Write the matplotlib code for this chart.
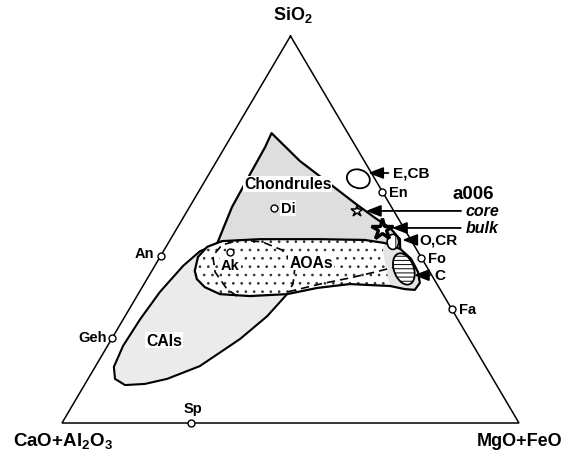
import matplotlib
matplotlib.use('Agg')
import numpy as np
import matplotlib.pyplot as plt
from matplotlib.patches import Polygon, Ellipse

plt.rcParams['font.family'] = ['Liberation Sans', 'DejaVu Sans']
plt.rcParams['font.weight'] = 'bold'
plt.rcParams['mathtext.fontset'] = 'custom'
plt.rcParams['mathtext.rm'] = 'Liberation Sans:bold'
plt.rcParams['mathtext.bf'] = 'Liberation Sans:bold'
plt.rcParams['hatch.linewidth'] = 0.7

# reference minerals, wt% (SiO2, MgO+FeO); rest is CaO+Al2O3
mineral_names = ['En', 'Di', 'An', 'Geh', 'Ak', 'Sp', 'Fo', 'Fa']
mineral_sio2 = [59.8, 55.5, 43.2, 21.9, 44.1, 0.0, 42.7, 29.5]
mineral_mgo = [40.2, 18.6, 0.0, 0.0, 14.8, 28.3, 57.3, 70.5]

# field outlines, wt% SiO2 and MgO+FeO
chondrules_sio2 = [46.8, 50.6, 55.8, 64.3, 71.3, 74.9, 67.7, 61.8, 56.8, 53.0, 50.4, 47.5, 45.0]
chondrules_mgo = [10.7, 10.1, 9.3, 9.0, 8.8, 8.4, 18.2, 27.7, 35.7, 42.0, 46.6, 50.2, 51.5]

aoa_sio2 = [39.3, 42.9, 45.5, 47.0, 47.5, 47.5, 47.3, 46.5, 45.0, 42.4, 39.0, 36.2,
            34.4, 34.6, 35.4, 35.9, 34.9, 33.3, 32.8, 33.3, 35.1, 37.2]
aoa_mgo = [9.4, 8.3, 9.0, 11.5, 19.6, 32.7, 42.6, 47.4, 51.5, 55.2, 58.4, 60.2,
           60.0, 57.7, 54.1, 45.0, 38.4, 32.6, 24.7, 17.9, 13.7, 10.9]

lobe_sio2 = [45.0, 42.4, 39.0, 36.2, 34.4, 34.6, 35.4, 39.8, 45.0, 46.5]
lobe_mgo = [51.5, 55.2, 58.4, 60.2, 60.0, 57.7, 54.1, 51.0, 47.7, 47.4]

cai_sio2 = [46.3, 44.4, 40.6, 33.9, 26.9, 19.9, 14.5, 11.4, 9.8, 10.1, 11.4, 14.7,
            21.7, 27.6, 33.3, 34.6, 39.8]
cai_mgo = [10.8, 8.0, 6.2, 4.5, 3.7, 3.4, 4.1, 5.9, 8.9, 13.1, 17.3, 22.8,
           28.1, 31.1, 32.6, 23.8, 12.5]

mel_sio2 = [32.8, 34.6, 39.0, 43.2, 46.0, 47.3, 46.8, 44.7, 40.6, 35.9, 33.9]
mel_mgo = [21.9, 18.8, 14.0, 11.4, 12.0, 15.3, 20.4, 25.8, 30.7, 32.6, 32.5]

split_sio2 = [33.9, 35.9, 37.5, 39.0, 40.3]
split_mgo = [32.5, 38.5, 44.3, 49.0, 52.7]

# chondrite groups (centres) and a006 analyses
ecb = (63.1, 33.3)
ocr = (46.8, 49.0)
cc = (39.8, 54.9)
a006_core = (54.8, 37.1)
a006_bulk = (50.1, 45.0)


def tern(s, m):
    s = np.asarray(s, dtype=float)
    m = np.asarray(m, dtype=float)
    return m + s / 2.0, s


fig = plt.figure(figsize=(5.64, 4.56), dpi=100)
ax = fig.add_axes([62 / 564, 32 / 456, 457 / 564, 387 / 456])
ax.set_xlim(0, 100)
ax.set_ylim(0, 100)
ax.axis('off')


def poly(s, m, **kw):
    x, y = tern(s, m)
    p = Polygon(np.column_stack([x, y]), closed=True, **kw)
    ax.add_patch(p)
    return p


# triangle
tx, ty = tern([100, 0, 0, 100], [0, 0, 100, 0])
ax.plot(tx, ty, color='black', lw=1.1, zorder=1, solid_joinstyle='miter', clip_on=False)

# CAIs
poly(cai_sio2, cai_mgo, facecolor='#ebebeb', edgecolor='black', lw=1.5, zorder=2)
# chondrules fill
poly(chondrules_sio2, chondrules_mgo, facecolor='#dedede', edgecolor='none', zorder=3)
# AOAs
poly(aoa_sio2, aoa_mgo, facecolor='white', edgecolor='#333333', lw=0, hatch='..', zorder=4)
poly(lobe_sio2, lobe_mgo, facecolor='#e4e4e4', edgecolor='none', zorder=5)

x, y = tern(mel_sio2, mel_mgo)
ax.plot(x, y, color='black', lw=1.2, ls=(0, (5, 3)), zorder=6)
x, y = tern(split_sio2, split_mgo)
ax.plot(x, y, color='black', lw=1.2, ls=(0, (5, 3)), zorder=6)

poly(aoa_sio2, aoa_mgo, fill=False, edgecolor='black', lw=1.6, zorder=7, joinstyle='round')
x, y = tern(chondrules_sio2, chondrules_mgo)
ax.plot(x, y, color='black', lw=1.6, zorder=7, solid_joinstyle='round')

# group ellipses
ex, ey = tern(*ecb)
ax.add_patch(Ellipse((ex, ey), 5.3, 4.6, angle=-40, facecolor='white',
                     edgecolor='black', lw=1.3, zorder=8))
ex, ey = tern(*ocr)
ax.add_patch(Ellipse((ex, ey), 2.5, 3.9, angle=0, facecolor='white',
                     edgecolor='black', lw=1.2, hatch='||', zorder=8))
ex, ey = tern(*cc)
ax.add_patch(Ellipse((ex, ey), 4.4, 8.3, angle=15, facecolor='white',
                     edgecolor='black', lw=1.3, hatch='----', zorder=8))

# minerals
mx, my = tern(mineral_sio2, mineral_mgo)
ax.plot(mx, my, 'o', ms=5, mfc='white', mec='black', mew=1.0, zorder=10, clip_on=False)
label_offsets = {'En': (5, 0, 'left'), 'Di': (5, 0, 'left'), 'An': (-5, 2, 'right'),
                 'Geh': (-4, 1, 'right'), 'Ak': (0, -9, 'center'), 'Sp': (1, 11, 'center'),
                 'Fo': (5, 0, 'left'), 'Fa': (5, 0, 'left')}
for name, xx, yy in zip(mineral_names, mx, my):
    dx, dy, ha = label_offsets[name]
    bb = dict(facecolor='white', edgecolor='none', pad=0.5) if name in ('Di', 'Ak') else None
    ax.annotate(name, (xx, yy), xytext=(dx, dy), textcoords='offset points',
                ha=ha, va='center', fontsize=10.5, fontweight='bold', bbox=bb, zorder=11)

# a006 stars
sx, sy = tern(*a006_core)
ax.plot(sx, sy, marker='*', ms=9, mfc='white', mec='black', mew=1.1, zorder=12)
sx, sy = tern(*a006_bulk)
ax.plot(sx, sy, marker='*', ms=16, mfc='white', mec='black', mew=2.4, zorder=12)

# arrows
arrow_tips = {'E,CB': (64.6, 34.7), 'core': (54.8, 39.1), 'bulk': (50.4, 47.0),
              'O,CR': (47.3, 50.8), 'C': (38.2, 57.9)}
arrow_offsets = {'E,CB': 18, 'core': 72, 'bulk': 53, 'O,CR': 12, 'C': 15}
for name, (s, m) in arrow_tips.items():
    xx, yy = tern(s, m)
    italic = name in ('core', 'bulk')
    ax.annotate(name, (xx, yy), xytext=(arrow_offsets[name], 0), textcoords='offset points',
                ha='left', va='center', fontsize=11.5 if italic else 11,
                fontstyle='italic' if italic else 'normal', fontweight='bold',
                arrowprops=dict(arrowstyle='-|>,head_length=0.9,head_width=0.35',
                                mutation_scale=10, lw=1.3, color='black',
                                shrinkA=1.5, shrinkB=0), zorder=13)

ax.text(85.4, 59.2, 'a006', fontsize=13.5, fontweight='bold', ha='left', va='center')

# region labels
for txt, (s, m) in [('Chondrules', (61.8, 18.5)), ('AOAs', (41.6, 33.7)),
                    ('CAIs', (21.4, 11.6))]:
    xx, yy = tern(s, m)
    ax.text(xx, yy, txt, fontsize=11.3, fontweight='bold', ha='center', va='center',
            bbox=dict(facecolor='white', edgecolor='none', pad=0.6), zorder=11)

# apex labels
ax.text(50.5, 105.7, 'SiO$_2$', fontsize=13, fontweight='bold', ha='center', va='center',
        clip_on=False)
ax.text(0.3, -4.6, 'CaO+Al$_2$O$_3$', fontsize=13.5, fontweight='bold', ha='center',
        va='center', clip_on=False)
ax.text(109.6, -4.6, 'MgO+FeO', fontsize=13, fontweight='bold', ha='right', va='center',
        clip_on=False)

fig.savefig('out.png', dpi=100)
